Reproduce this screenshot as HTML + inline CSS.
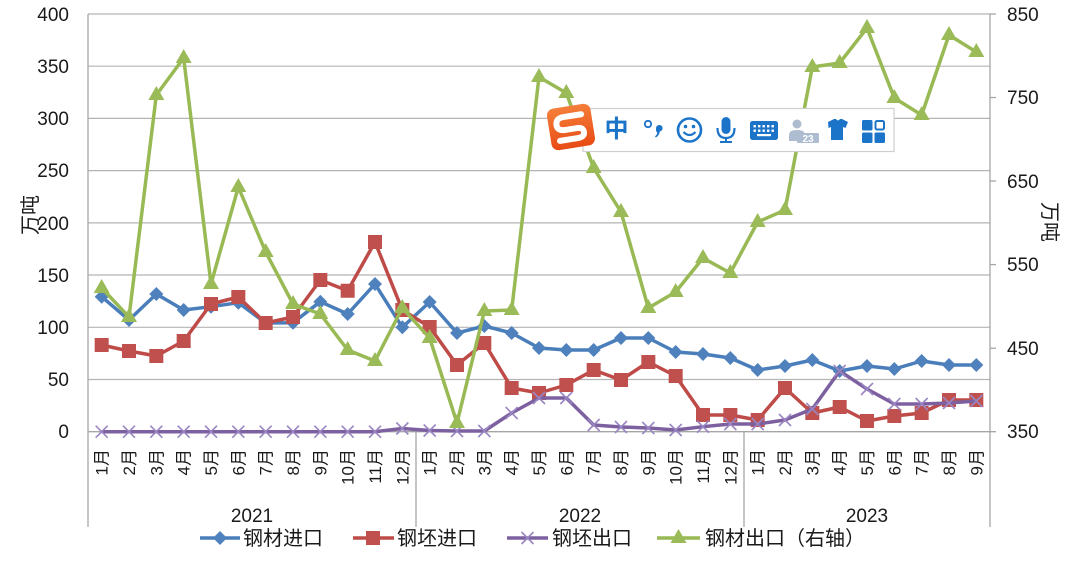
<!DOCTYPE html>
<html><head><meta charset="utf-8"><style>
html,body{margin:0;padding:0;background:#fff;}
svg{display:block;}
text{font-family:"Liberation Sans","Noto Sans CJK SC",sans-serif;fill:#1a1a1a;}
.cjk{font-family:"Liberation Sans","Noto Sans CJK SC",sans-serif;}
</style></head><body>
<svg width="1080" height="566" viewBox="0 0 1080 566" xmlns="http://www.w3.org/2000/svg">
<rect width="1080" height="566" fill="#fff"/>
<!-- gridlines -->
<g stroke="#B4B4B4" stroke-width="1.2">
<line x1="88" y1="14" x2="990" y2="14"/>
<line x1="88" y1="66.2" x2="990" y2="66.2"/>
<line x1="88" y1="118.4" x2="990" y2="118.4"/>
<line x1="88" y1="170.6" x2="990" y2="170.6"/>
<line x1="88" y1="222.9" x2="990" y2="222.9"/>
<line x1="88" y1="275" x2="990" y2="275"/>
<line x1="88" y1="327.3" x2="990" y2="327.3"/>
<line x1="88" y1="379.5" x2="990" y2="379.5"/>
</g>
<g stroke="#A6A6A6" stroke-width="1.3">
<line x1="88" y1="431.7" x2="996" y2="431.7"/>
<line x1="88" y1="14" x2="88" y2="527"/>
<line x1="990" y1="14" x2="990" y2="527"/>
<line x1="416" y1="431.7" x2="416" y2="527"/>
<line x1="744" y1="431.7" x2="744" y2="527"/>
<line x1="990" y1="14" x2="996" y2="14"/>
<line x1="990" y1="97.5" x2="996" y2="97.5"/>
<line x1="990" y1="181" x2="996" y2="181"/>
<line x1="990" y1="264.6" x2="996" y2="264.6"/>
<line x1="990" y1="348.2" x2="996" y2="348.2"/>
</g>
<!-- left axis labels -->
<g font-size="19" text-anchor="end">
<text x="69" y="21">400</text>
<text x="69" y="73">350</text>
<text x="69" y="125">300</text>
<text x="69" y="177">250</text>
<text x="69" y="230">200</text>
<text x="69" y="282">150</text>
<text x="69" y="334">100</text>
<text x="69" y="386">50</text>
<text x="69" y="438">0</text>
</g>
<!-- right axis labels -->
<g font-size="19">
<text x="1007" y="21">850</text>
<text x="1007" y="104">750</text>
<text x="1007" y="188">650</text>
<text x="1007" y="271">550</text>
<text x="1007" y="355">450</text>
<text x="1007" y="438">350</text>
</g>
<text class="cjk" font-size="20" text-anchor="middle" transform="translate(37,215) rotate(-90)">万吨</text>
<text class="cjk" font-size="20" text-anchor="middle" transform="translate(1043,222) rotate(90)">万吨</text>
<!-- month labels -->
<g font-size="17" text-anchor="end" class="cjk">
<text transform="translate(107.7,449) rotate(-90)">1月</text>
<text transform="translate(135,449) rotate(-90)">2月</text>
<text transform="translate(162.3,449) rotate(-90)">3月</text>
<text transform="translate(189.7,449) rotate(-90)">4月</text>
<text transform="translate(217,449) rotate(-90)">5月</text>
<text transform="translate(244.3,449) rotate(-90)">6月</text>
<text transform="translate(271.7,449) rotate(-90)">7月</text>
<text transform="translate(299,449) rotate(-90)">8月</text>
<text transform="translate(326.3,449) rotate(-90)">9月</text>
<text transform="translate(353.7,449) rotate(-90)">10月</text>
<text transform="translate(381,449) rotate(-90)">11月</text>
<text transform="translate(408.3,449) rotate(-90)">12月</text>
<text transform="translate(435.7,449) rotate(-90)">1月</text>
<text transform="translate(463,449) rotate(-90)">2月</text>
<text transform="translate(490.3,449) rotate(-90)">3月</text>
<text transform="translate(517.7,449) rotate(-90)">4月</text>
<text transform="translate(545,449) rotate(-90)">5月</text>
<text transform="translate(572.3,449) rotate(-90)">6月</text>
<text transform="translate(599.7,449) rotate(-90)">7月</text>
<text transform="translate(627,449) rotate(-90)">8月</text>
<text transform="translate(654.3,449) rotate(-90)">9月</text>
<text transform="translate(681.7,449) rotate(-90)">10月</text>
<text transform="translate(709,449) rotate(-90)">11月</text>
<text transform="translate(736.3,449) rotate(-90)">12月</text>
<text transform="translate(763.7,449) rotate(-90)">1月</text>
<text transform="translate(791,449) rotate(-90)">2月</text>
<text transform="translate(818.3,449) rotate(-90)">3月</text>
<text transform="translate(845.7,449) rotate(-90)">4月</text>
<text transform="translate(873,449) rotate(-90)">5月</text>
<text transform="translate(900.3,449) rotate(-90)">6月</text>
<text transform="translate(927.7,449) rotate(-90)">7月</text>
<text transform="translate(955,449) rotate(-90)">8月</text>
<text transform="translate(982.3,449) rotate(-90)">9月</text>
</g>
<g font-size="19" text-anchor="middle">
<text x="252" y="522">2021</text>
<text x="580" y="522">2022</text>
<text x="867" y="522">2023</text>
</g>

<!-- blue series -->
<polyline fill="none" stroke="#4A7EBB" stroke-width="3.5" stroke-linejoin="round" points="101.67,296.7 129,320 156.33,294 183.67,310 211,306.7 238.33,302.7 265.67,323 293,322.7 320.33,301.7 347.67,314 375,284 402.33,327.3 429.67,302 457,333 484.33,326 511.67,333 539,348 566.33,350 593.67,350 621,338 648.33,338 675.67,352 703,354 730.33,358 757.67,370 785,366 812.33,360 839.67,371 867,366 894.33,369 921.67,361 949,365 976.33,365"/>
<path fill="#4F81BD" d="M101.67,289.7l7,7-7,7-7-7zM129,313l7,7-7,7-7-7zM156.33,287l7,7-7,7-7-7zM183.67,303l7,7-7,7-7-7zM211,299.7l7,7-7,7-7-7zM238.33,295.7l7,7-7,7-7-7zM265.67,316l7,7-7,7-7-7zM293,315.7l7,7-7,7-7-7zM320.33,294.7l7,7-7,7-7-7zM347.67,307l7,7-7,7-7-7zM375,277l7,7-7,7-7-7zM402.33,320.3l7,7-7,7-7-7zM429.67,295l7,7-7,7-7-7zM457,326l7,7-7,7-7-7zM484.33,319l7,7-7,7-7-7zM511.67,326l7,7-7,7-7-7zM539,341l7,7-7,7-7-7zM566.33,343l7,7-7,7-7-7zM593.67,343l7,7-7,7-7-7zM621,331l7,7-7,7-7-7zM648.33,331l7,7-7,7-7-7zM675.67,345l7,7-7,7-7-7zM703,347l7,7-7,7-7-7zM730.33,351l7,7-7,7-7-7zM757.67,363l7,7-7,7-7-7zM785,359l7,7-7,7-7-7zM812.33,353l7,7-7,7-7-7zM839.67,364l7,7-7,7-7-7zM867,359l7,7-7,7-7-7zM894.33,362l7,7-7,7-7-7zM921.67,354l7,7-7,7-7-7zM949,358l7,7-7,7-7-7zM976.33,358l7,7-7,7-7-7z"/>

<!-- red series -->
<polyline fill="none" stroke="#BE4B48" stroke-width="3.5" stroke-linejoin="round" points="101.67,345 129,351 156.33,356 183.67,341 211,304 238.33,297 265.67,323 293,317 320.33,280 347.67,290.7 375,242 402.33,310 429.67,327 457,365 484.33,343 511.67,388 539,393 566.33,385 593.67,370 621,380 648.33,362 675.67,376 703,415 730.33,415 757.67,420 785,388 812.33,413 839.67,407 867,421 894.33,416 921.67,413 949,400 976.33,400"/>
<path fill="#C0504D" d="M94.67,338h14v14h-14zM122,344h14v14h-14zM149.33,349h14v14h-14zM176.67,334h14v14h-14zM204,297h14v14h-14zM231.33,290h14v14h-14zM258.67,316h14v14h-14zM286,310h14v14h-14zM313.33,273h14v14h-14zM340.67,283.7h14v14h-14zM368,235h14v14h-14zM395.33,303h14v14h-14zM422.67,320h14v14h-14zM450,358h14v14h-14zM477.33,336h14v14h-14zM504.67,381h14v14h-14zM532,386h14v14h-14zM559.33,378h14v14h-14zM586.67,363h14v14h-14zM614,373h14v14h-14zM641.33,355h14v14h-14zM668.67,369h14v14h-14zM696,408h14v14h-14zM723.33,408h14v14h-14zM750.67,413h14v14h-14zM778,381h14v14h-14zM805.33,406h14v14h-14zM832.67,400h14v14h-14zM860,414h14v14h-14zM887.33,409h14v14h-14zM914.67,406h14v14h-14zM942,393h14v14h-14zM969.33,393h14v14h-14z"/>

<!-- purple series -->
<polyline fill="none" stroke="#7D60A0" stroke-width="3.5" stroke-linejoin="round" points="101.67,431.7 129,431.7 156.33,431.7 183.67,431.7 211,431.7 238.33,431.7 265.67,431.7 293,431.7 320.33,431.7 347.67,431.7 375,431.7 402.33,428.5 429.67,430.5 457,431 484.33,431 511.67,413 539,398 566.33,398 593.67,425 621,427 648.33,428 675.67,430 703,426.7 730.33,424 757.67,424 785,420 812.33,409 839.67,371 867,389 894.33,404 921.67,404 949,403 976.33,401"/>
<path fill="none" stroke="#9A86C2" stroke-width="1.6" d="M95.67,425.7l12,12m0-12l-12,12M123,425.7l12,12m0-12l-12,12M150.33,425.7l12,12m0-12l-12,12M177.67,425.7l12,12m0-12l-12,12M205,425.7l12,12m0-12l-12,12M232.33,425.7l12,12m0-12l-12,12M259.67,425.7l12,12m0-12l-12,12M287,425.7l12,12m0-12l-12,12M314.33,425.7l12,12m0-12l-12,12M341.67,425.7l12,12m0-12l-12,12M369,425.7l12,12m0-12l-12,12M396.33,422.5l12,12m0-12l-12,12M423.67,424.5l12,12m0-12l-12,12M451,425l12,12m0-12l-12,12M478.33,425l12,12m0-12l-12,12M505.67,407l12,12m0-12l-12,12M533,392l12,12m0-12l-12,12M560.33,392l12,12m0-12l-12,12M587.67,419l12,12m0-12l-12,12M615,421l12,12m0-12l-12,12M642.33,422l12,12m0-12l-12,12M669.67,424l12,12m0-12l-12,12M697,420.7l12,12m0-12l-12,12M724.33,418l12,12m0-12l-12,12M751.67,418l12,12m0-12l-12,12M779,414l12,12m0-12l-12,12M806.33,403l12,12m0-12l-12,12M833.67,365l12,12m0-12l-12,12M861,383l12,12m0-12l-12,12M888.33,398l12,12m0-12l-12,12M915.67,398l12,12m0-12l-12,12M943,397l12,12m0-12l-12,12M970.33,395l12,12m0-12l-12,12"/>

<!-- green series -->
<polyline fill="none" stroke="#98B954" stroke-width="3.5" stroke-linejoin="round" points="101.67,288 129,317 156.33,95 183.67,58 211,284 238.33,187 265.67,252 293,304 320.33,314 347.67,350 375,361 402.33,308 429.67,338 457,423 484.33,311 511.67,310 539,77 566.33,93 593.67,168 621,212 648.33,308 675.67,292 703,258 730.33,273 757.67,222 785,210 812.33,67 839.67,63 867,28 894.33,98 921.67,115 949,35 976.33,52"/>
<path fill="#9BBB59" d="M101.67,279l8,14h-16zM129,308l8,14h-16zM156.33,86l8,14h-16zM183.67,49l8,14h-16zM211,275l8,14h-16zM238.33,178l8,14h-16zM265.67,243l8,14h-16zM293,295l8,14h-16zM320.33,305l8,14h-16zM347.67,341l8,14h-16zM375,352l8,14h-16zM402.33,299l8,14h-16zM429.67,329l8,14h-16zM457,414l8,14h-16zM484.33,302l8,14h-16zM511.67,301l8,14h-16zM539,68l8,14h-16zM566.33,84l8,14h-16zM593.67,159l8,14h-16zM621,203l8,14h-16zM648.33,299l8,14h-16zM675.67,283l8,14h-16zM703,249l8,14h-16zM730.33,264l8,14h-16zM757.67,213l8,14h-16zM785,201l8,14h-16zM812.33,58l8,14h-16zM839.67,54l8,14h-16zM867,19l8,14h-16zM894.33,89l8,14h-16zM921.67,106l8,14h-16zM949,26l8,14h-16zM976.33,43l8,14h-16z"/>

<!-- legend -->
<line x1="200" y1="538" x2="240" y2="538" stroke="#4A7EBB" stroke-width="3.5"/>
<path fill="#4F81BD" d="M220,531l7,7-7,7-7-7z"/>
<text class="cjk" x="243" y="545" font-size="20">钢材进口</text>
<line x1="353" y1="538" x2="394" y2="538" stroke="#BE4B48" stroke-width="3.5"/>
<rect x="366" y="531" width="14" height="14" fill="#C0504D"/>
<text class="cjk" x="397" y="545" font-size="20">钢坯进口</text>
<line x1="507" y1="538" x2="548" y2="538" stroke="#7D60A0" stroke-width="3.5"/>
<path fill="none" stroke="#9A86C2" stroke-width="1.6" d="M521.5,532l12,12m0-12l-12,12"/>
<text class="cjk" x="552" y="545" font-size="20">钢坯出口</text>
<line x1="657" y1="538" x2="700" y2="538" stroke="#98B954" stroke-width="3.5"/>
<path fill="#9BBB59" d="M678.5,529l8,14h-16z"/>
<text class="cjk" x="705" y="545" font-size="20">钢材出口（右轴）</text>

<!-- IME toolbar overlay -->
<rect x="583" y="108.5" width="311" height="43" fill="#fff" stroke="#CFCFCF" stroke-width="1.2"/>
<defs>
<linearGradient id="og" x1="0" y1="0" x2="0" y2="1">
<stop offset="0" stop-color="#F57F3A"/>
<stop offset="1" stop-color="#E84B14"/>
</linearGradient>
</defs>
<g transform="translate(571,127) rotate(-9)">
<rect x="-22" y="-21" width="44" height="42" rx="7" fill="url(#og)"/>
<path d="M12,-11 H-6 Q-14,-11 -14,-4 Q-14,2 -6,2 H6 Q12,2 12,7 Q12,12 5,12 H-13" fill="none" stroke="#fff" stroke-width="6" stroke-linecap="round" stroke-linejoin="round"/>
</g>
<g fill="#1C74C9">
<text x="616.5" y="137" font-size="24" font-weight="bold" text-anchor="middle" class="cjk" style="fill:#1C74C9">中</text>
<circle cx="648" cy="124" r="3.2" fill="none" stroke="#1C74C9" stroke-width="1.8"/>
<path d="M656,128 a3.3,3.3 0 1 1 3.8,3.5 q-0.5,4 -4,6 l-0.8,-1.2 q2.2,-1.5 2.3,-3.7 q-1.3,-0.6 -1.3,-2.3z"/>
<circle cx="689.5" cy="130" r="11.5" fill="none" stroke="#1C74C9" stroke-width="2.6"/>
<circle cx="685.5" cy="126.5" r="1.8"/>
<circle cx="693.5" cy="126.5" r="1.8"/>
<path d="M683.5,132 q6,6 12,0" fill="none" stroke="#1C74C9" stroke-width="2.2"/>
<rect x="721.5" y="117" width="9" height="17" rx="4.5"/>
<path d="M717.5,128 q0,10 8.5,10 q8.5,0 8.5,-10" fill="none" stroke="#1C74C9" stroke-width="2.2"/>
<rect x="725" y="137" width="2" height="5"/>
<rect x="720" y="141" width="12" height="2"/>
<rect x="750" y="121" width="28" height="19" rx="2.5"/>
<g fill="#fff">
<rect x="753.5" y="125" width="2.4" height="2.4"/><rect x="758" y="125" width="2.4" height="2.4"/><rect x="762.5" y="125" width="2.4" height="2.4"/><rect x="767" y="125" width="2.4" height="2.4"/><rect x="771.5" y="125" width="2.4" height="2.4"/>
<rect x="753.5" y="129.5" width="2.4" height="2.4"/><rect x="758" y="129.5" width="2.4" height="2.4"/><rect x="762.5" y="129.5" width="2.4" height="2.4"/><rect x="767" y="129.5" width="2.4" height="2.4"/><rect x="771.5" y="129.5" width="2.4" height="2.4"/>
<rect x="757" y="134" width="14" height="2.2"/>
</g>
<path d="M828,122 l6,-3 h2 q2,3 4,0 h2 l6,3 -2.5,6 -2.5,-1 v13 h-12 v-13 l-2.5,1z"/>
<rect x="862" y="120" width="10.5" height="10.5" rx="1.5"/>
<rect x="862" y="132.5" width="10.5" height="10.5" rx="1.5"/>
<rect x="874.5" y="132.5" width="10.5" height="10.5" rx="1.5"/>
<rect x="875.5" y="121" width="8.5" height="8.5" rx="1.5" fill="none" stroke="#1C74C9" stroke-width="2"/>
</g>
<g fill="#AEBCD0">
<circle cx="797" cy="124" r="4.5"/>
<path d="M789,141 v-6 q0,-5 8,-5 q5,0 7,2 v9z"/>
<rect x="797" y="133" width="22" height="10" rx="1"/>
</g>
<text x="808" y="142" font-size="10" text-anchor="middle" style="fill:#fff" font-weight="bold">23</text>
</svg>
</body></html>
